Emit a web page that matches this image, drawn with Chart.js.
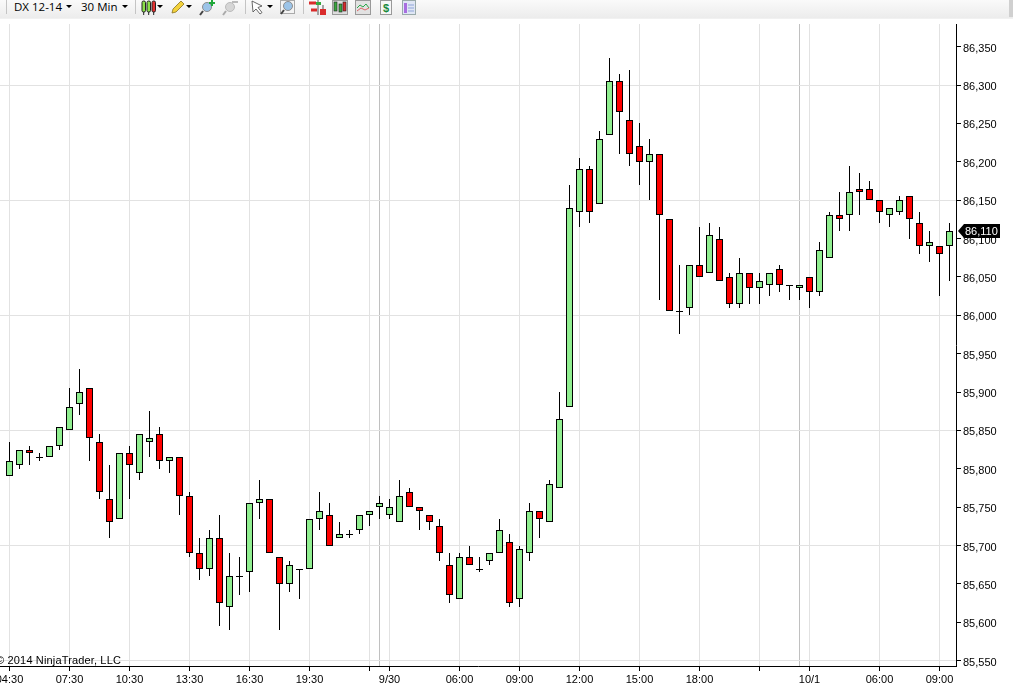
<!DOCTYPE html>
<html>
<head>
<meta charset="utf-8">
<title>DX 12-14 30 Min</title>
<script src="https://cdn.jsdelivr.net/npm/chart.js@4"></script>
<style>
  html, body { margin: 0; padding: 0; background: #fff; overflow: hidden; }
  #wrap { position: relative; width: 1013px; height: 688px; }
  #linechart { position: absolute; left: 0; top: 0; }
  #toolbar { position: absolute; left: 0; top: 0; width: 1013px; height: 18px;
    background: linear-gradient(#fafafa, #ececec); border-bottom: 1px solid #f1f1f1; }
  #toolbar span { position: absolute; top: -2px; font: 11.5px/18px "Open Sans", sans-serif; color: #000; }
  #toolbar svg { position: absolute; left: 0; top: 0; }
</style>
</head>
<body>
<div id="wrap">
  <canvas id="linechart" width="1013" height="688"></canvas>
  <div id="toolbar">
    <span style="left:14px">DX 12-14</span>
    <span style="left:81px">30 Min</span>
    <svg width="1013" height="18">
      <g stroke="#c4c4c4"><path d="M6.5 0V14M135.5 0V14M245.5 0V14M303.5 0V14"/></g>
      <g fill="#000"><path d="M66 5h6l-3 3zM122 5h6l-3 3zM157 5h6l-3 3zM186 5h6l-3 3zM267 5h6l-3 3z"/></g>
      <g stroke="#222" stroke-width="1">
        <rect x="142" y="1" width="3.5" height="11" rx="1.5" fill="#8be04a"/><path d="M143.7 12V15"/>
        <rect x="147" y="1" width="3.5" height="11" rx="1.5" fill="#8be04a"/><path d="M148.7 12V15"/>
        <rect x="152" y="1" width="3.5" height="11" rx="1.5" fill="#e23030"/><path d="M153.7 12V15"/>
      </g>
      <path d="M172 13l1-4 8-8 3 3-8 8z" fill="#f3d23c" stroke="#8a7420" stroke-width=".8"/>
      <g>
        <circle cx="207" cy="7" r="4.5" fill="#9cc4e8" stroke="#8d8d8d"/><path d="M203 11l-3 4" stroke="#444" stroke-width="2"/>
        <path d="M209 3h6M212 0v6" stroke="#1fa83a" stroke-width="2"/>
        <circle cx="230" cy="7" r="4.5" fill="#d6d6d6" stroke="#bbb"/><path d="M226 11l-3 4" stroke="#aaa" stroke-width="2"/>
        <path d="M232 2h6" stroke="#bbb" stroke-width="2"/>
      </g>
      <path d="M252 1l10 5-4 1.5 4 5-2 1.5-4-5-3 3z" fill="#fff" stroke="#444" stroke-width=".8"/>
      <g>
        <rect x="280.5" y=".5" width="14" height="13" fill="#f4f4f4" stroke="#aaa"/>
        <circle cx="288" cy="6" r="4.5" fill="#9cc4e8" stroke="#8d8d8d"/><path d="M284 10l-3 4" stroke="#444" stroke-width="2"/>
      </g>
      <g>
        <path d="M309 3h7M311 10h6" stroke="#d92b2b" stroke-width="3"/><path d="M318 0V15M323 5V15" stroke="#555"/>
        <rect x="320" y="9" width="6" height="6" fill="#d92b2b"/><rect x="316" y="2" width="5" height="3" fill="#35a83f"/>
        <rect x="332.5" y=".5" width="15" height="14" fill="#ddd" stroke="#999"/>
        <rect x="334" y="2" width="3" height="9" fill="#3aa63f" stroke="#222" stroke-width=".6"/>
        <rect x="339" y="4" width="3" height="8" fill="#3aa63f" stroke="#222" stroke-width=".6"/>
        <rect x="343" y="2" width="3" height="9" fill="#d92b2b" stroke="#222" stroke-width=".6"/>
        <rect x="355.5" y=".5" width="15" height="14" fill="#e2e2e2" stroke="#999"/>
        <path d="M357 8l3-3 3 2 3-3 3 4" fill="none" stroke="#2ba84a"/><path d="M357 11l4-3 4 2 4-2" fill="none" stroke="#d66"/>
        <rect x="380.5" y=".5" width="11" height="14" fill="#f6f6f6" stroke="#999"/>
        <text x="383" y="12" font-family="Liberation Sans" font-size="11" font-weight="bold" fill="#1a8a3a">$</text>
        <rect x="402.5" y=".5" width="13" height="14" fill="#dfe6f5" stroke="#9aa"/>
        <rect x="404" y="3" width="3" height="10" fill="#a86ee0"/><path d="M408 5h6M408 8h6M408 11h6" stroke="#8fa5d8"/>
      </g>
      <rect x="1009" y="0" width="4" height="17" fill="#d0d0d0"/>
    </svg>
  </div>
</div>
<script>
const open_ = [85790,85805,85825,85815,85815,85830,85850,85885,85905,85835,85760,85735,85820,85795,85835,85845,85810,85815,85765,85690,85670,85710,85620,85660,85665,
  85755,85760,85685,85650,85670,85670,85735,85740,85710,85715,85720,85740,85750,85740,85730,85770,85750,85740,85725,85675,85630,85685,85670,85680,85690,
  85705,85630,85690,85745,85730,85775,85880,86135,86190,86145,86235,86305,86255,86220,86200,86210,86125,86005,86010,86065,86055,86100,86050,86015,86055,
  86035,86040,86060,86040,86035,86050,86030,86075,86130,86130,86165,86165,86150,86130,86135,86155,86120,86090,86090,86090];
const high = [85835,85825,85830,85820,85830,85855,85905,85930,85905,85845,85805,85820,85830,85845,85875,85855,85815,85815,85770,85710,85720,85740,85690,85685,85755,
  85785,85760,85685,85680,85670,85735,85770,85755,85730,85720,85740,85745,85765,85760,85785,85775,85750,85740,85735,85690,85690,85700,85685,85690,85735,
  85715,85700,85755,85745,85785,85900,86170,86205,86195,86240,86335,86315,86320,86250,86230,86210,86125,86065,86065,86115,86120,86115,86055,86075,86055,
  86055,86055,86065,86040,86040,86050,86095,86135,86160,86195,86185,86175,86150,86140,86155,86155,86135,86110,86090,86120];
const low = [85790,85800,85805,85810,85815,85825,85850,85870,85810,85760,85710,85735,85760,85785,85815,85800,85795,85740,85685,85655,85660,85595,85590,85635,85640,
  85735,85690,85590,85640,85630,85670,85720,85700,85710,85710,85715,85725,85735,85735,85730,85750,85720,85720,85680,85625,85630,85675,85665,85675,85690,
  85620,85620,85680,85710,85730,85775,85880,86115,86120,86145,86235,86210,86195,86170,86150,86020,86005,85975,86000,86050,86055,86045,86010,86010,86015,
  86015,86025,86030,86020,86020,86010,86025,86075,86110,86110,86130,86150,86120,86115,86130,86100,86080,86070,86025,86045];
const close_ = [85810,85825,85820,85815,85830,85855,85880,85900,85840,85770,85730,85820,85805,85845,85840,85810,85815,85765,85690,85670,85710,85625,85660,85660,85755,
  85760,85690,85650,85675,85670,85735,85745,85700,85715,85715,85740,85745,85755,85750,85765,85750,85745,85730,85690,85635,85685,85675,85670,85690,85720,
  85625,85695,85745,85735,85780,85865,86140,86190,86135,86230,86305,86265,86210,86200,86210,86130,86005,86005,86065,86050,86105,86045,86015,86055,86035,
  86045,86055,86040,86040,86040,86030,86085,86130,86125,86160,86160,86150,86135,86140,86150,86125,86090,86095,86080,86110];

const tickIndex = [0,6,12,18,24,30,36,38,45,51,57,63,69,75,80,87,93];
const tickLabels = ['04:30','07:30','10:30','13:30','16:30','19:30','','9/30','06:00','09:00','12:00','15:00','18:00','','10/1','06:00','09:00'];
const sessionBreaks = [37,79];
const priceTicks = [85550,85600,85650,85700,85750,85800,85850,85900,85950,86000,86050,86100,86150,86200,86250,86300,86350];
const priceGrid = [85550,85700,85850,86000,86150,86300];
const lastPrice = 86110;
const priceMin = 85543, priceMax = 86379.5;

const fmt = v => String(v).replace(/(\d\d)(\d{3})$/, '$1,$2');
const bars = open_.map((o, i) => i);
const upColor = 'rgb(144, 238, 144)';
const downColor = 'rgb(255, 0, 0)';
const isBreak = c => c.tick && sessionBreaks.includes(c.tick.value);

// snap marks to whole pixels, the original chart has no blurry edges
const snapPlugin = {
  id: 'snap',
  beforeDatasetsDraw(chart) {
    chart.getSortedVisibleDatasetMetas().forEach(meta => {
      meta.data.forEach(el => {
        if (meta.type === 'bar') {
          el.y = Math.round(el.y);
          el.base = Math.round(el.base);
          el.height = el.base - el.y;
        } else {
          el.y = Math.round(el.y) + 0.5;
        }
      });
    });
  }
};

const labelPlugin = {
  id: 'labels',
  afterDraw(chart) {
    const c = chart.ctx;
    const y = Math.round(chart.scales.y.getPixelForValue(lastPrice));
    c.save();
    c.fillStyle = '#000';
    c.font = '11px "Liberation Sans"';
    c.textAlign = 'right';
    c.textBaseline = 'alphabetic';
    c.letterSpacing = '0.15px';
    c.fillText('\u00A9 2014 NinjaTrader, LLC', 121, 664);
    c.letterSpacing = '0px';
    c.beginPath();
    c.moveTo(958, y);
    c.lineTo(964, y - 7);
    c.lineTo(1000, y - 7);
    c.lineTo(1000, y + 7);
    c.lineTo(964, y + 7);
    c.closePath();
    c.fill();
    c.fillStyle = '#fff';
    c.textAlign = 'left';
    c.textBaseline = 'middle';
    c.fillText(fmt(lastPrice), 965, y + 1);
    c.restore();
  }
};

const ctx = document.getElementById('linechart').getContext('2d');
const myChart = new Chart(ctx, {
  type: 'bar',
  data: {
    datasets: [
      {
        label: 'wick',
        data: bars.map(i => ({ x: i, y: [low[i], high[i]] })),
        backgroundColor: '#000',
        borderWidth: 0,
        barThickness: 1,
        inflateAmount: 0,
        order: 3
      },
      {
        label: 'body',
        data: bars.filter(i => open_[i] !== close_[i]).map(i => ({ x: i, y: [open_[i], close_[i]] })),
        backgroundColor: bars.filter(i => open_[i] !== close_[i]).map(i => close_[i] > open_[i] ? upColor : downColor),
        borderColor: '#000',
        borderWidth: 1,
        borderSkipped: false,
        barThickness: 7,
        inflateAmount: 0,
        order: 2
      },
      {
        type: 'line',
        label: 'doji',
        data: bars.filter(i => open_[i] === close_[i]).map(i => ({ x: i, y: open_[i] })),
        showLine: false,
        pointStyle: 'line',
        pointRadius: 3.5,
        pointBorderWidth: 1,
        pointBorderColor: '#000',
        order: 1
      }
    ]
  },
  plugins: [snapPlugin, labelPlugin],
  options: {
    responsive: false,
    devicePixelRatio: 1,
    animation: false,
    events: [],
    layout: { autoPadding: false, padding: { top: 24, left: 0, right: 0, bottom: 0 } },
    plugins: { legend: { display: false }, tooltip: { enabled: false } },
    datasets: { bar: { grouped: false } },
    scales: {
      x: {
        type: 'linear',
        offset: false,
        min: -0.95,
        max: 94.65,
        afterBuildTicks(scale) {
          scale.ticks = tickIndex.concat(sessionBreaks).sort((a, b) => a - b).map(v => ({ value: v }));
        },
        afterFit(scale) {
          scale.height = 22;
          scale.paddingLeft = 0;
          scale.paddingRight = 0;
        },
        grid: {
          offset: false,
          color: c => isBreak(c) ? '#c0c0c0' : '#e2e2e2',
          tickColor: c => isBreak(c) ? 'transparent' : '#000',
          tickLength: 5
        },
        border: { color: '#000', width: 1 },
        ticks: {
          autoSkip: false,
          maxRotation: 0,
          minRotation: 0,
          padding: 2,
          color: '#000',
          font: { family: '"Liberation Sans"', size: 11 },
          callback: v => {
            const k = tickIndex.indexOf(v);
            return k < 0 ? '' : tickLabels[k];
          }
        }
      },
      y: {
        position: 'right',
        min: priceMin,
        max: priceMax,
        afterBuildTicks(scale) {
          scale.ticks = priceTicks.map(v => ({ value: v }));
        },
        afterFit(scale) {
          scale.width = 57;
          scale.paddingTop = 0;
          scale.paddingBottom = 0;
        },
        grid: {
          color: c => c.tick && priceGrid.includes(c.tick.value) ? '#e2e2e2' : 'transparent',
          tickColor: '#000',
          tickLength: 5
        },
        border: { color: '#000', width: 1 },
        ticks: {
          padding: 2,
          labelOffset: 2,
          color: '#000',
          font: { family: '"Liberation Sans"', size: 11 },
          callback: v => fmt(v)
        }
      }
    }
  }
});
</script>
</body>
</html>
